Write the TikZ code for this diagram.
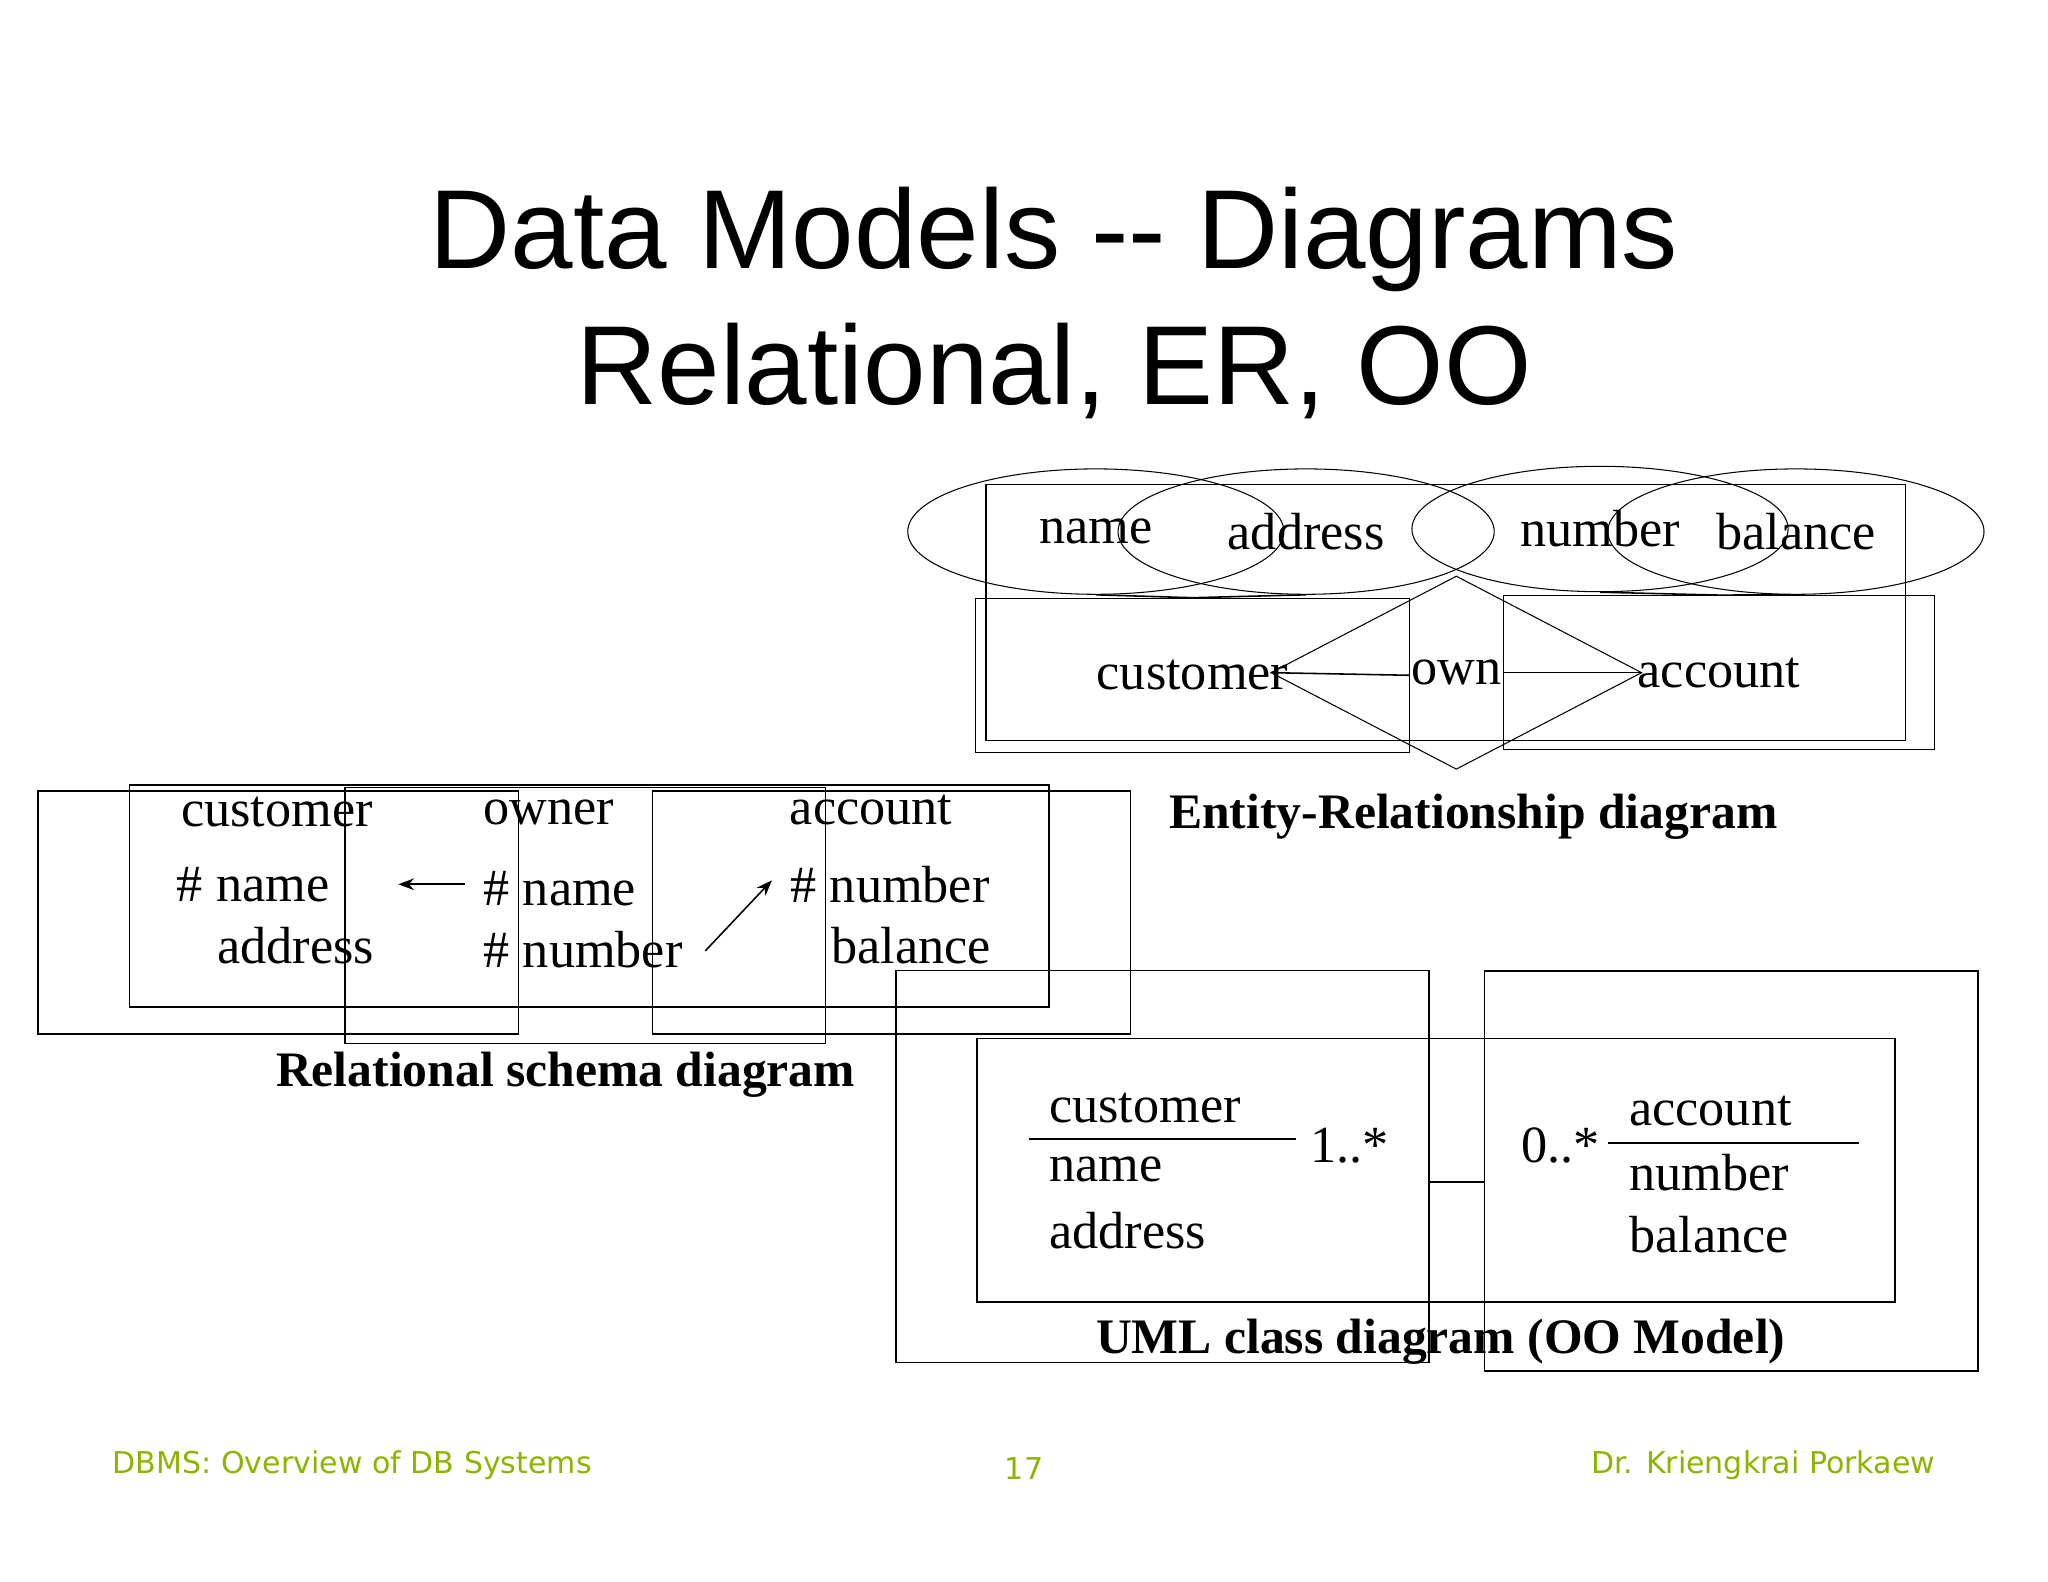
\documentclass[tikz,border=0pt]{standalone}
\usepackage{fontspec}
\setmainfont{Liberation Serif}
\newfontfamily\titlefont{Liberation Sans}
\newfontfamily\footfont{DejaVu Sans}
\usetikzlibrary{shapes.geometric,arrows.meta}
\definecolor{footgreen}{RGB}{140,180,0}
\begin{document}
\begin{tikzpicture}[x=0.5pt,y=-0.5pt,
  lbl/.style={inner sep=0pt,font=\fontsize{20}{24}\selectfont},
  captxt/.style={inner sep=0pt,font=\fontsize{19}{23}\selectfont\bfseries},
  attr/.style={draw,ellipse,minimum width=144,minimum height=48,inner sep=0pt,font=\fontsize{20}{24}\selectfont},
  ent/.style={draw,inner sep=0pt,font=\fontsize{20}{24}\selectfont},
  foot/.style={inner sep=0pt,text=footgreen,font=\footfont\fontsize{11.5}{14}\selectfont},
  thin/.style={line width=0.6pt}]
\useasboundingbox (0,0) rectangle (1568,1211);
\fill[white] (0,0) rectangle (1568,1211);
\node[inner sep=0pt,align=center,font=\titlefont\fontsize{43}{52}\selectfont] (title) at (807,232) {Data Models -- Diagrams\\Relational, ER, OO};
% ER
\draw[thin] (755,371) rectangle (1459,567);
\node[attr] (nm) at (839,407) {name};
\node[attr] (ad) at (1000,407) {address};
\node[attr] (nu) at (1225,405) {number};
\node[attr] (ba) at (1375,407) {balance};
\node[ent,minimum width=166,minimum height=59] (cu) at (913,517) {customer};
\node[draw,diamond,aspect=1.92,minimum width=142,minimum height=74,inner sep=0pt,font=\fontsize{20}{24}\selectfont] (own) at (1115,515) {own};
\node[ent,minimum width=165,minimum height=59] (ac) at (1316,515) {account};
\draw[thin] (nm.south) -- (cu.north);
\draw[thin] (ad.south) -- (cu.north);
\draw[thin] (nu.south) -- (ac.north);
\draw[thin] (ba.south) -- (ac.north);
\draw[thin] (cu.east) -- (own.west);
\draw[thin] (own.east) -- (ac.west);
\node[captxt] (ercap) at (1128,625) {Entity-Relationship diagram};
% Relational
\draw[thin] (99,601) rectangle (803,771);
\node[lbl] (lc) at (212,622) {customer};
\node[lbl] (lo) at (420,622) {owner};
\node[lbl] (la) at (667,620) {account};
\node[draw,thin,minimum width=184,minimum height=93,inner sep=0pt] (r1) at (213,698.5) {};
\node[draw,thin,minimum width=184,minimum height=98,inner sep=0pt] (r2) at (448,701) {};
\node[draw,thin,minimum width=183,minimum height=93,inner sep=0pt] (r3) at (682.5,698.5) {};
\node[lbl,anchor=west] (t1) at (135,677) {\# name};
\node[lbl,anchor=west] (t2) at (166,724) {address};
\node[lbl,anchor=west] (t3) at (370,680) {\# name};
\node[lbl,anchor=west] (t4) at (370,727) {\# number};
\node[lbl,anchor=west] (t5) at (605,677) {\# number};
\node[lbl,anchor=west] (t6) at (636,724) {balance};
\coordinate (p1) at (356,677); \coordinate (p2) at (305,677);
\coordinate (p3) at (540,728); \coordinate (p4) at (591,674);
\draw[thin,-{Stealth[length=6pt]}] (p1) -- (p2);
\draw[thin,-{Stealth[length=6pt]}] (p3) -- (p4);
\node[captxt] (rcap) at (433,823) {Relational schema diagram};
% UML
\draw[thin] (748,795) rectangle (1451,997);
\node[draw,thin,minimum width=204,minimum height=150,inner sep=0pt] (uc) at (890,893) {};
\draw[thin] (788,872) -- (992,872);
\node[draw,thin,minimum width=189,minimum height=153,inner sep=0pt] (ua) at (1325.5,896.5) {};
\draw[thin] (1231,875) -- (1423,875);
\node[lbl,anchor=west] (u1) at (803,848) {customer};
\node[lbl,anchor=west] (u2) at (803,895) {name};
\node[lbl,anchor=west] (u3) at (803,942) {address};
\node[lbl,anchor=west] (u4) at (1247,851) {account};
\node[lbl,anchor=west] (u5) at (1247,898) {number};
\node[lbl,anchor=west] (u6) at (1247,945) {balance};
\draw[thin] (uc.east |- 0,905) -- (ua.west |- 0,905);
\node[lbl] (m1) at (1033,877) {1..*};
\node[lbl] (m2) at (1195,877) {0..*};
\node[captxt] (ucap) at (1103,1027) {UML class diagram (OO Model)};
% footer
\node[foot,anchor=west] (f1) at (86,1122) {DBMS: Overview of DB Systems};
\node[foot] (f2) at (784,1124) {17};
\node[foot,anchor=east] (f3) at (1482,1122) {Dr. Kriengkrai Porkaew};
\end{tikzpicture}
\end{document}
